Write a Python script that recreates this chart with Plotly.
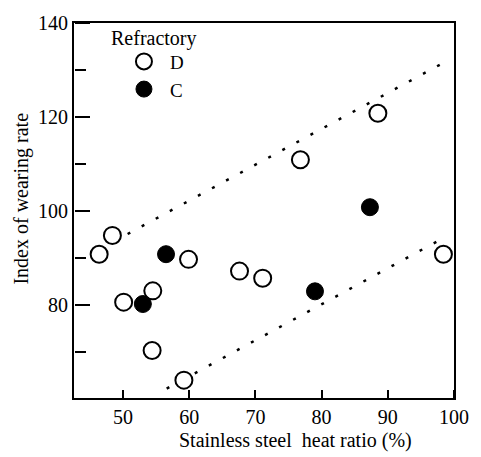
import plotly.graph_objects as go

# Refractory D (open circles)
d_x = [46.4, 48.4, 50.1, 54.5, 54.4, 59.2, 59.9, 67.6, 71.1, 76.8, 88.5, 98.4]
d_y = [90.8, 94.8, 80.6, 83.0, 70.3, 64.0, 89.7, 87.2, 85.7, 110.9, 120.8, 90.8]

# Refractory C (filled circles)
c_x = [53.0, 56.5, 79.0, 87.3]
c_y = [80.2, 90.8, 82.9, 100.8]

# Dotted envelope lines
upper_x = [50.7, 98.5]
upper_y = [95.1, 131.6]
lower_x = [56.6, 98.4]
lower_y = [62.2, 94.25]

x_range = [42.6, 100.0]
y_range = [60.2, 140.0]

FONT = "'Liberation Serif', 'Times New Roman', 'DejaVu Serif', serif"
W, H = 481, 457
L, R, T, B = 74, 18, 14, 59

fig = go.Figure()

for lx, ly in [(upper_x, upper_y), (lower_x, lower_y)]:
    fig.add_trace(go.Scatter(
        x=lx, y=ly, mode="lines", showlegend=False, hoverinfo="skip",
        line=dict(color="black", width=2.5, dash="3px,13px"),
    ))

fig.add_trace(go.Scatter(
    x=d_x, y=d_y, mode="markers", name="D",
    marker=dict(symbol="circle", size=17, color="white",
                line=dict(color="black", width=2)),
))
fig.add_trace(go.Scatter(
    x=c_x, y=c_y, mode="markers", name="C",
    marker=dict(symbol="circle", size=17, color="black",
                line=dict(color="black", width=1)),
))
# invisible trace so the tick-only overlay axes are drawn
fig.add_trace(go.Scatter(
    x=c_x, y=c_y, xaxis="x2", yaxis="y2", mode="markers",
    marker=dict(opacity=0), showlegend=False, hoverinfo="skip",
))

pw = W - L - R
ph = H - T - B


def px_to_paper_x(px):
    return (px - L) / pw


def px_to_paper_y(py):
    return 1 - (py - T) / ph


fig.update_layout(
    width=W, height=H,
    margin=dict(l=L, r=R, t=T, b=B, pad=0),
    paper_bgcolor="white", plot_bgcolor="white",
    font=dict(family=FONT, size=20, color="black"),
    showlegend=True,
    legend=dict(
        x=px_to_paper_x(119), y=px_to_paper_y(34),
        xanchor="left", yanchor="top",
        bgcolor="rgba(0,0,0,0)", borderwidth=0,
        font=dict(family=FONT, size=19, color="black"),
        itemwidth=42,
        tracegroupgap=0,
    ),
    xaxis=dict(
        range=x_range, tick0=50, dtick=10, tickmode="linear",
        ticks="", showline=True, linecolor="black", linewidth=2, mirror=True,
        showgrid=False, zeroline=False,
        tickfont=dict(family=FONT, size=20),
    ),
    yaxis=dict(
        range=y_range, tick0=0, dtick=20, tickmode="linear",
        ticks="", showline=True, linecolor="black", linewidth=2, mirror=True,
        showgrid=False, zeroline=False,
        tickfont=dict(family=FONT, size=20),
    ),
    # tick-only axes: "outside" on the opposite side points into the plot
    xaxis2=dict(
        overlaying="x", side="top", anchor="free", position=0,
        range=x_range, tick0=50, dtick=10, tickmode="linear",
        ticks="outside", ticklen=8, tickwidth=2, tickcolor="black",
        showticklabels=False, showline=False, showgrid=False, zeroline=False,
    ),
    yaxis2=dict(
        overlaying="y", side="right", anchor="free", position=0,
        range=y_range, tick0=0, dtick=20, tickmode="linear",
        ticks="outside", ticklen=15, tickwidth=2, tickcolor="black",
        minor=dict(dtick=10, tick0=0, ticks="outside", ticklen=11,
                   tickwidth=2, tickcolor="black", showgrid=False),
        showticklabels=False, showline=False, showgrid=False, zeroline=False,
    ),
    annotations=[
        dict(text="Index of wearing rate", xref="paper", yref="paper",
             x=px_to_paper_x(20), y=px_to_paper_y(193.5),
             xanchor="center", yanchor="middle", textangle=-90,
             showarrow=False, font=dict(family=FONT, size=20)),
        dict(text="Stainless steel\u00a0 heat ratio (%)", xref="paper", yref="paper",
             x=px_to_paper_x(301), y=px_to_paper_y(441.7),
             xanchor="center", yanchor="middle",
             showarrow=False, font=dict(family=FONT, size=20)),
        dict(text="Refractory", xref="paper", yref="paper",
             x=px_to_paper_x(110), y=px_to_paper_y(30),
             xanchor="left", yanchor="middle",
             showarrow=False, font=dict(family=FONT, size=20)),
    ],
)

fig.write_html("out.html")
